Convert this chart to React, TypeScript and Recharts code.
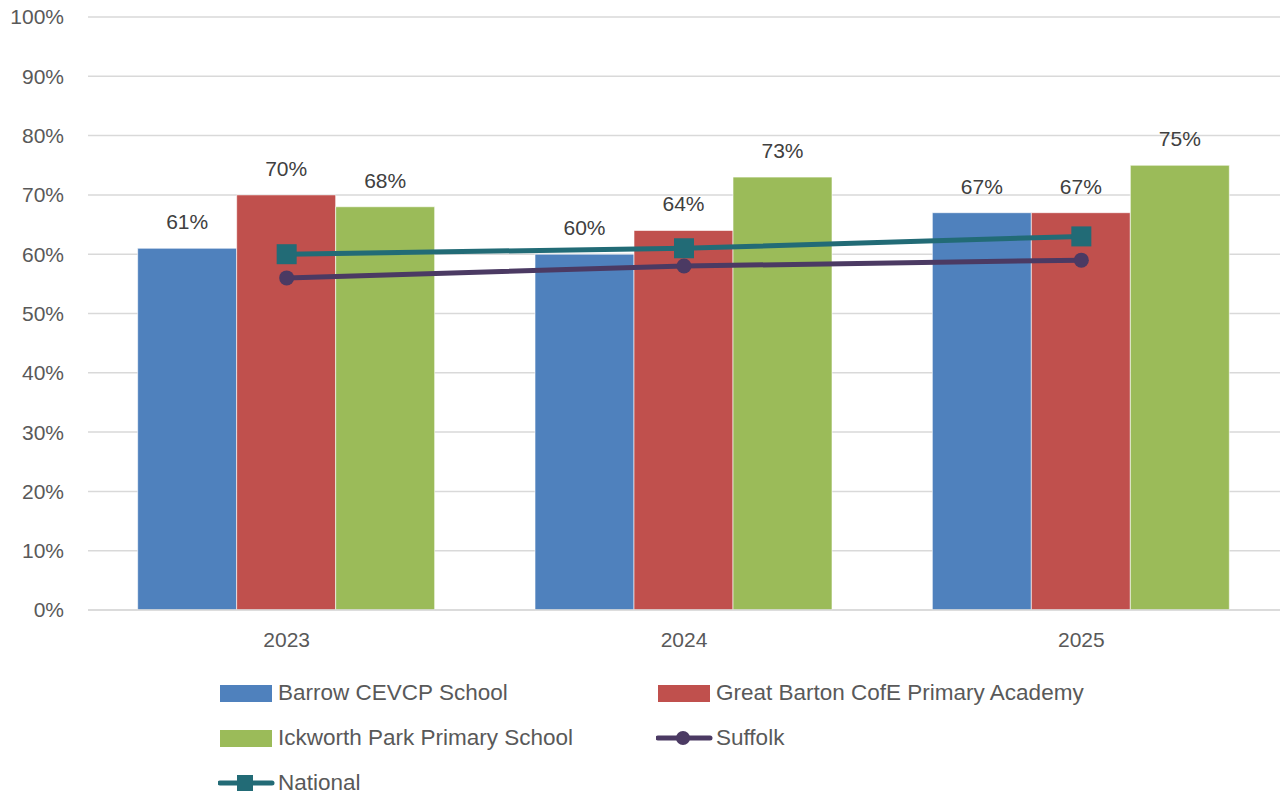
import React from "react";
import { ComposedChart, Bar, Line, XAxis, YAxis, CartesianGrid, LabelList } from "recharts";

const years = ["2023", "2024", "2025"];
const barrow = [0.61, 0.6, 0.67];
const greatBarton = [0.7, 0.64, 0.67];
const ickworth = [0.68, 0.73, 0.75];
const suffolk = [0.56, 0.58, 0.59];
const national = [0.6, 0.61, 0.63];
const yTicks = [0, 0.1, 0.2, 0.3, 0.4, 0.5, 0.6, 0.7, 0.8, 0.9, 1];

const barSeries = [
  { key: "barrow", name: "Barrow CEVCP School", color: "#4f81bd" },
  { key: "greatBarton", name: "Great Barton CofE Primary Academy", color: "#c0504d" },
  { key: "ickworth", name: "Ickworth Park Primary School", color: "#9bbb59" },
];
const lineSeries = [
  { key: "suffolk", name: "Suffolk", color: "#4b3a63", marker: "circle" },
  { key: "national", name: "National", color: "#226b76", marker: "square" },
];

const data = years.map((y, i) => ({
  year: y,
  barrow: barrow[i],
  greatBarton: greatBarton[i],
  ickworth: ickworth[i],
  suffolk: suffolk[i],
  national: national[i],
}));

const font = "'Liberation Sans', Arial, sans-serif";
const pct = (v: number) => `${Math.round(v * 100)}%`;

const SquareDot = (props: any) => {
  const { cx, cy, stroke } = props;
  if (cx == null || cy == null) return null;
  return <rect key={`sq-${cx}`} x={cx - 10} y={cy - 10} width={20} height={20} fill={stroke} />;
};
const CircleDot = (props: any) => {
  const { cx, cy, stroke } = props;
  if (cx == null || cy == null) return null;
  return <circle key={`c-${cx}`} cx={cx} cy={cy} r={7.5} fill={stroke} />;
};

const legendItems = [
  { ...barSeries[0], type: "bar" },
  { ...barSeries[1], type: "bar" },
  { ...barSeries[2], type: "bar" },
  { ...lineSeries[0], type: "line" },
  { ...lineSeries[1], type: "line" },
];

const LegendBox = () => (
  <div style={{ position: "absolute", left: 218, top: 673, width: 1000, fontFamily: font, fontSize: 22.5, color: "#595959" }}>
    {legendItems.map((it: any, i) => (
      <div
        key={it.key}
        style={{
          position: "absolute",
          left: (i % 2) * 438,
          top: Math.floor(i / 2) * 45,
          height: 40,
          display: "flex",
          alignItems: "center",
          whiteSpace: "nowrap",
        }}
      >
        <svg width={58} height={24} style={{ marginRight: 2 }}>
          {it.type === "bar" ? (
            <rect x={2} y={4} width={52} height={17} fill={it.color} />
          ) : (
            <g>
              <line x1={2} y1={12} x2={54} y2={12} stroke={it.color} strokeWidth={5} strokeLinecap="round" />
              {it.marker === "circle" ? (
                <circle cx={27} cy={12} r={7} fill={it.color} />
              ) : (
                <rect x={19} y={4} width={16} height={16} fill={it.color} />
              )}
            </g>
          )}
        </svg>
        <span>{it.name}</span>
      </div>
    ))}
  </div>
);

export default function App() {
  return (
    <div style={{ position: "absolute", left: 0, top: 0, width: 1282, height: 795, background: "#fff" }}>
      <ComposedChart
        width={1282}
        height={795}
        data={data}
        margin={{ top: 17, right: 2, left: 0, bottom: 0 }}
        barCategoryGap="12.5%"
        barGap={0}
      >
        <CartesianGrid vertical={false} stroke="#d9d9d9" strokeWidth={1.5} />
        <XAxis
          dataKey="year"
          height={185}
          tickLine={false}
          axisLine={{ stroke: "#d9d9d9", strokeWidth: 1.5 }}
          tickSize={0}
          tickMargin={22}
          tick={{ fill: "#595959", fontSize: 21, fontFamily: font }}
        />
        <YAxis
          width={88}
          domain={[0, 1]}
          ticks={yTicks}
          tickFormatter={pct}
          axisLine={false}
          tickLine={false}
          tickSize={0}
          tickMargin={24}
          tick={{ fill: "#595959", fontSize: 21, fontFamily: font }}
        />
        {barSeries.map((s) => (
          <Bar key={s.key} dataKey={s.key} name={s.name} fill={s.color} stroke="#ffffff" strokeOpacity={0.6} strokeWidth={1} isAnimationActive={false}>
            <LabelList dataKey={s.key} position="top" offset={19} formatter={(v: any) => pct(Number(v))} style={{ fill: "#404040", fontSize: 21, fontFamily: font }} />
          </Bar>
        ))}
        <Line
          dataKey="suffolk"
          name="Suffolk"
          stroke={lineSeries[0].color}
          strokeWidth={5}
          dot={CircleDot}
          activeDot={false}
          isAnimationActive={false}
        />
        <Line
          dataKey="national"
          name="National"
          stroke={lineSeries[1].color}
          strokeWidth={5}
          dot={SquareDot}
          activeDot={false}
          isAnimationActive={false}
        />
      </ComposedChart>
      <LegendBox />
    </div>
  );
}
